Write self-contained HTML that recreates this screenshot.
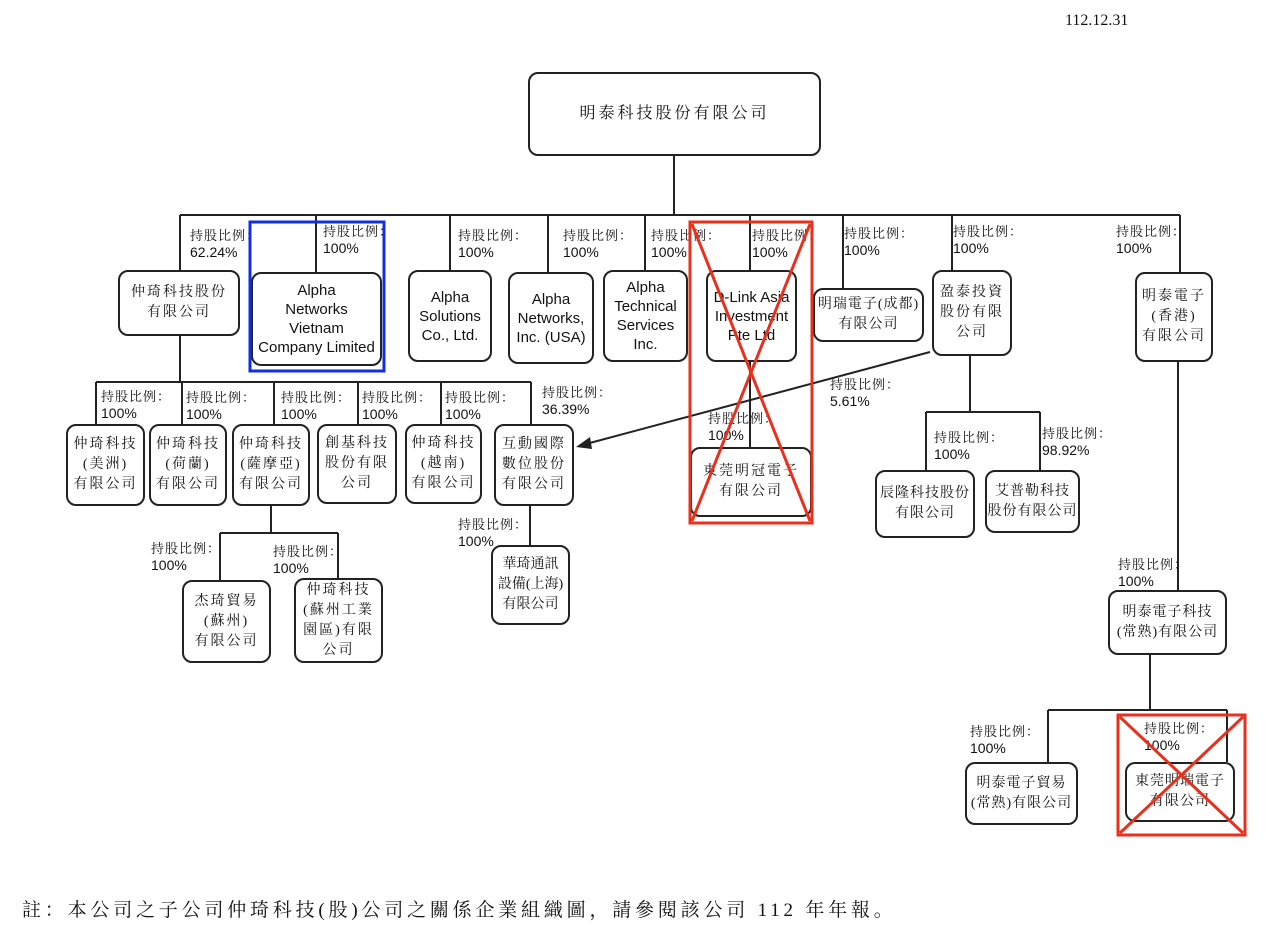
<!DOCTYPE html>
<html><head><meta charset="utf-8"><style>
body{margin:0;width:1280px;height:935px;background:#fff;position:relative;overflow:hidden;font-family:"Liberation Serif","Noto Serif CJK SC",serif;color:#111}
.b{position:absolute;border:2px solid #222;border-radius:10px;box-sizing:border-box;display:flex;align-items:center;justify-content:center;text-align:center;font-size:14px;line-height:20px;letter-spacing:2px;background:#fff}
.e{font-family:"Liberation Sans",sans-serif;letter-spacing:0;font-size:15px;line-height:19px}
.l{position:absolute;font-size:13px;line-height:16px;letter-spacing:1px;white-space:nowrap}
.l span{font-family:"Liberation Sans",sans-serif;font-size:14px;letter-spacing:0;display:block}
svg{position:absolute;left:0;top:0}
</style></head><body>
<svg width="1280" height="935">
<g stroke="#222" stroke-width="2" fill="none">
<path d="M674 155V215M180 215H1180M180 215V270M316 215V272M450 215V270M548 215V272M645 215V270M750 215V270M843 215V288M952 215V270M1180 215V272"/>
<path d="M180 336V382M96 382H531M96 382V424M182 382V424M274 382V424M358 382V424M441 382V424M531 382V424"/>
<path d="M750 362V447"/>
<path d="M970 356V412M926 412H1040M926 412V470M1040 412V470"/>
<path d="M271 506V533M220 533H338M220 533V580M338 533V578"/>
<path d="M530 506V545"/>
<path d="M1178 362V590M1150 655V710M1048 710H1227M1048 710V762M1227 710V762"/>
<path d="M930 352L586 444"/>
</g>
<polygon points="576,447 590,437 592,449" fill="#222"/>
</svg>
<div style="position:absolute;left:1065px;top:12px;font-size:16px">112.12.31</div>
<div class="b" style="left:528px;top:72px;width:293px;height:84px;font-size:16px;letter-spacing:3px">明泰科技股份有限公司</div>

<div class="b" style="left:118px;top:270px;width:122px;height:66px">仲琦科技股份<br>有限公司</div>
<div class="b e" style="left:251px;top:272px;width:131px;height:94px">Alpha<br>Networks<br>Vietnam<br>Company Limited</div>
<div class="b e" style="left:408px;top:270px;width:84px;height:92px">Alpha<br>Solutions<br>Co., Ltd.</div>
<div class="b e" style="left:508px;top:272px;width:86px;height:92px">Alpha<br>Networks,<br>Inc. (USA)</div>
<div class="b e" style="left:603px;top:270px;width:85px;height:92px">Alpha<br>Technical<br>Services<br>Inc.</div>
<div class="b e" style="left:706px;top:270px;width:91px;height:92px">D-Link Asia<br>Investment<br>Pte Ltd</div>
<div class="b" style="left:813px;top:288px;width:111px;height:54px;letter-spacing:1px">明瑞電子(成都)<br>有限公司</div>
<div class="b" style="left:932px;top:270px;width:80px;height:86px">盈泰投資<br>股份有限<br>公司</div>
<div class="b" style="left:1135px;top:272px;width:78px;height:90px">明泰電子<br>(香港)<br>有限公司</div>

<div class="b" style="left:66px;top:424px;width:79px;height:82px">仲琦科技<br>(美洲)<br>有限公司</div>
<div class="b" style="left:149px;top:424px;width:78px;height:82px">仲琦科技<br>(荷蘭)<br>有限公司</div>
<div class="b" style="left:232px;top:424px;width:78px;height:82px">仲琦科技<br>(薩摩亞)<br>有限公司</div>
<div class="b" style="left:317px;top:424px;width:80px;height:80px">創基科技<br>股份有限<br>公司</div>
<div class="b" style="left:405px;top:424px;width:77px;height:80px">仲琦科技<br>(越南)<br>有限公司</div>
<div class="b" style="left:494px;top:424px;width:80px;height:82px">互動國際<br>數位股份<br>有限公司</div>
<div class="b" style="left:690px;top:447px;width:122px;height:70px">東莞明冠電子<br>有限公司</div>
<div class="b" style="left:875px;top:470px;width:100px;height:68px;letter-spacing:1px">辰隆科技股份<br>有限公司</div>
<div class="b" style="left:985px;top:470px;width:95px;height:63px;letter-spacing:1px">艾普勒科技<br>股份有限公司</div>
<div class="b" style="left:182px;top:580px;width:89px;height:83px">杰琦貿易<br>(蘇州)<br>有限公司</div>
<div class="b" style="left:294px;top:578px;width:89px;height:85px">仲琦科技<br>(蘇州工業<br>園區)有限<br>公司</div>
<div class="b" style="left:491px;top:545px;width:79px;height:80px;letter-spacing:0;white-space:nowrap">華琦通訊<br>設備(上海)<br>有限公司</div>
<div class="b" style="left:1108px;top:590px;width:119px;height:65px;letter-spacing:1px">明泰電子科技<br>(常熟)有限公司</div>
<div class="b" style="left:965px;top:762px;width:113px;height:63px;letter-spacing:1px">明泰電子貿易<br>(常熟)有限公司</div>
<div class="b" style="left:1125px;top:762px;width:110px;height:60px;letter-spacing:1px">東莞明瑞電子<br>有限公司</div>

<div class="l" style="left:190px;top:228px">持股比例：<span>62.24%</span></div>
<div class="l" style="left:323px;top:224px">持股比例：<span>100%</span></div>
<div class="l" style="left:458px;top:228px">持股比例：<span>100%</span></div>
<div class="l" style="left:563px;top:228px">持股比例：<span>100%</span></div>
<div class="l" style="left:651px;top:228px">持股比例：<span>100%</span></div>
<div class="l" style="left:752px;top:228px">持股比例：<span>100%</span></div>
<div class="l" style="left:844px;top:226px">持股比例：<span>100%</span></div>
<div class="l" style="left:953px;top:224px">持股比例：<span>100%</span></div>
<div class="l" style="left:1116px;top:224px">持股比例：<span>100%</span></div>

<div class="l" style="left:101px;top:389px">持股比例：<span>100%</span></div>
<div class="l" style="left:186px;top:390px">持股比例：<span>100%</span></div>
<div class="l" style="left:281px;top:390px">持股比例：<span>100%</span></div>
<div class="l" style="left:362px;top:390px">持股比例：<span>100%</span></div>
<div class="l" style="left:445px;top:390px">持股比例：<span>100%</span></div>
<div class="l" style="left:542px;top:385px">持股比例：<span>36.39%</span></div>
<div class="l" style="left:830px;top:377px">持股比例：<span>5.61%</span></div>
<div class="l" style="left:708px;top:411px">持股比例：<span>100%</span></div>
<div class="l" style="left:934px;top:430px">持股比例：<span>100%</span></div>
<div class="l" style="left:1042px;top:426px">持股比例：<span>98.92%</span></div>
<div class="l" style="left:151px;top:541px">持股比例：<span>100%</span></div>
<div class="l" style="left:273px;top:544px">持股比例：<span>100%</span></div>
<div class="l" style="left:458px;top:517px">持股比例：<span>100%</span></div>
<div class="l" style="left:1118px;top:557px">持股比例：<span>100%</span></div>
<div class="l" style="left:970px;top:724px">持股比例：<span>100%</span></div>
<div class="l" style="left:1144px;top:721px">持股比例：<span>100%</span></div>

<svg width="1280" height="935">
<rect x="250" y="222" width="134" height="149" fill="none" stroke="#1030e0" stroke-width="3"/>
<g stroke="#e8301c" stroke-width="3" fill="none">
<rect x="690" y="222" width="122" height="301"/>
<path d="M692 224L810 521M810 224L692 521"/>
<rect x="1118" y="715" width="127" height="120"/>
<path d="M1120 717L1243 833M1243 717L1120 833"/>
</g>
</svg>

<div style="position:absolute;left:22px;top:895px;font-size:19px;letter-spacing:3.8px;white-space:nowrap">註：本公司之子公司仲琦科技(股)公司之關係企業組織圖，請參閱該公司 112 年年報。</div>
</body></html>
